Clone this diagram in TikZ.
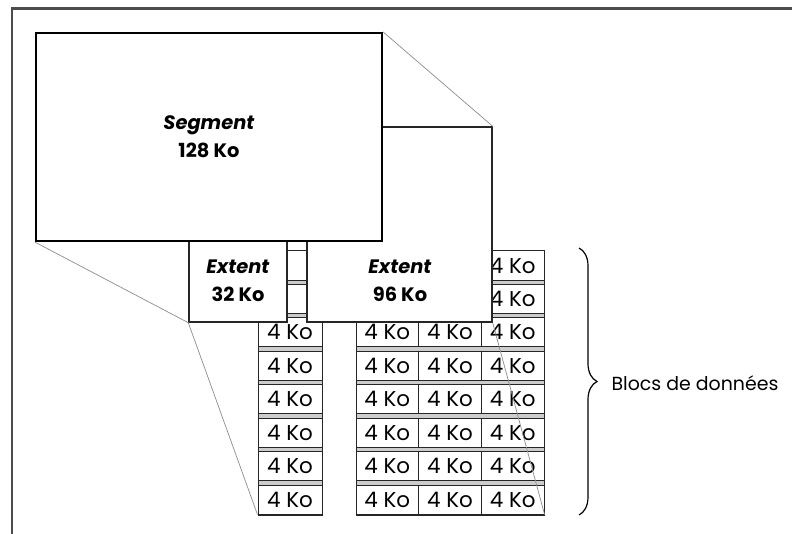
\documentclass[tikz,border=0pt]{standalone}
\usepackage{fontspec}
\setmainfont{Poppins}
\usetikzlibrary{positioning,calc,decorations.pathreplacing}

\begin{document}
\begin{tikzpicture}[x=1bp,y=-1bp,
	seg box/.style={rectangle,draw=black,line width=2.2bp,fill=white,inner sep=0pt},
	ext box/.style={rectangle,draw=black!85,line width=1.4bp,fill=white,inner sep=0pt},
	blk/.style={rectangle,draw=black!85,line width=1bp,fill=white,inner sep=0pt,
		minimum width=62.7bp,minimum height=29bp,font=\fontsize{21.5}{21.5}\selectfont},
	big label/.style={align=center,font=\bfseries\fontsize{19.5}{28}\selectfont},
	zoom line/.style={draw=black!45,line width=0.7bp}]

	\useasboundingbox (0,0) rectangle (792,534);
	\draw[line width=2.2bp,black!70] (12,534) -- (12,8.5) -- (792,8.5);

	% data blocks (the top two rows of columns 1-3 lie under the extents)
	\filldraw[fill=gray!40,draw=black!85,line width=1bp] (258,251) rectangle (322,515);
	\filldraw[fill=gray!40,draw=black!85,line width=1bp] (356,251) rectangle (544,515);
	\foreach \r in {1,...,8} {
		\ifnum\r<3 \def\txt{}\else \def\txt{4 Ko}\fi
		\node[blk,minimum width=64bp] (b1-\r) at (290,{265.5+33.45*(\r-1)}) {\txt};
		\foreach \c/\x in {2/387.35,3/450.05}
			\node[blk] (b\c-\r) at (\x,{265.5+33.45*(\r-1)}) {\txt};
		\node[blk] (b4-\r) at (512.75,{265.5+33.45*(\r-1)}) {4 Ko};
	}

	% extents and segment
	\node[ext box,minimum width=185bp,minimum height=195bp] (ext96) at (399.5,224.5) {};
	\node[ext box,minimum width=98bp,minimum height=122bp] (ext32) at (238,261) {};
	\node[seg box,minimum width=346bp,minimum height=208bp] (seg) at (209,137) {};

	\node[big label] (seg text) at (seg.center) {\textit{Segment}\\128 Ko};
	\node[big label] (ext32 text) at (238,281) {\textit{Extent}\\32 Ko};
	\node[big label] (ext96 text) at (400,281) {\textit{Extent}\\96 Ko};

	\path[zoom line]
	(seg.north east) edge (ext96.north east)
	(seg.south west) edge (ext32.south west)
	(ext32.south west) edge (b1-8.south west)
	(ext96.south east) edge (b4-8.south east)
	;

	\coordinate (brace top) at (579,248);
	\coordinate (brace bot) at (579,515);
	\draw[decorate,decoration={brace,amplitude=18bp},line width=1.2bp]
		(brace top) -- (brace bot);
	\node[anchor=west,font=\fontsize{19}{19}\selectfont] (blocs) at (608,383) {Blocs de données};

\end{tikzpicture}
\end{document}
